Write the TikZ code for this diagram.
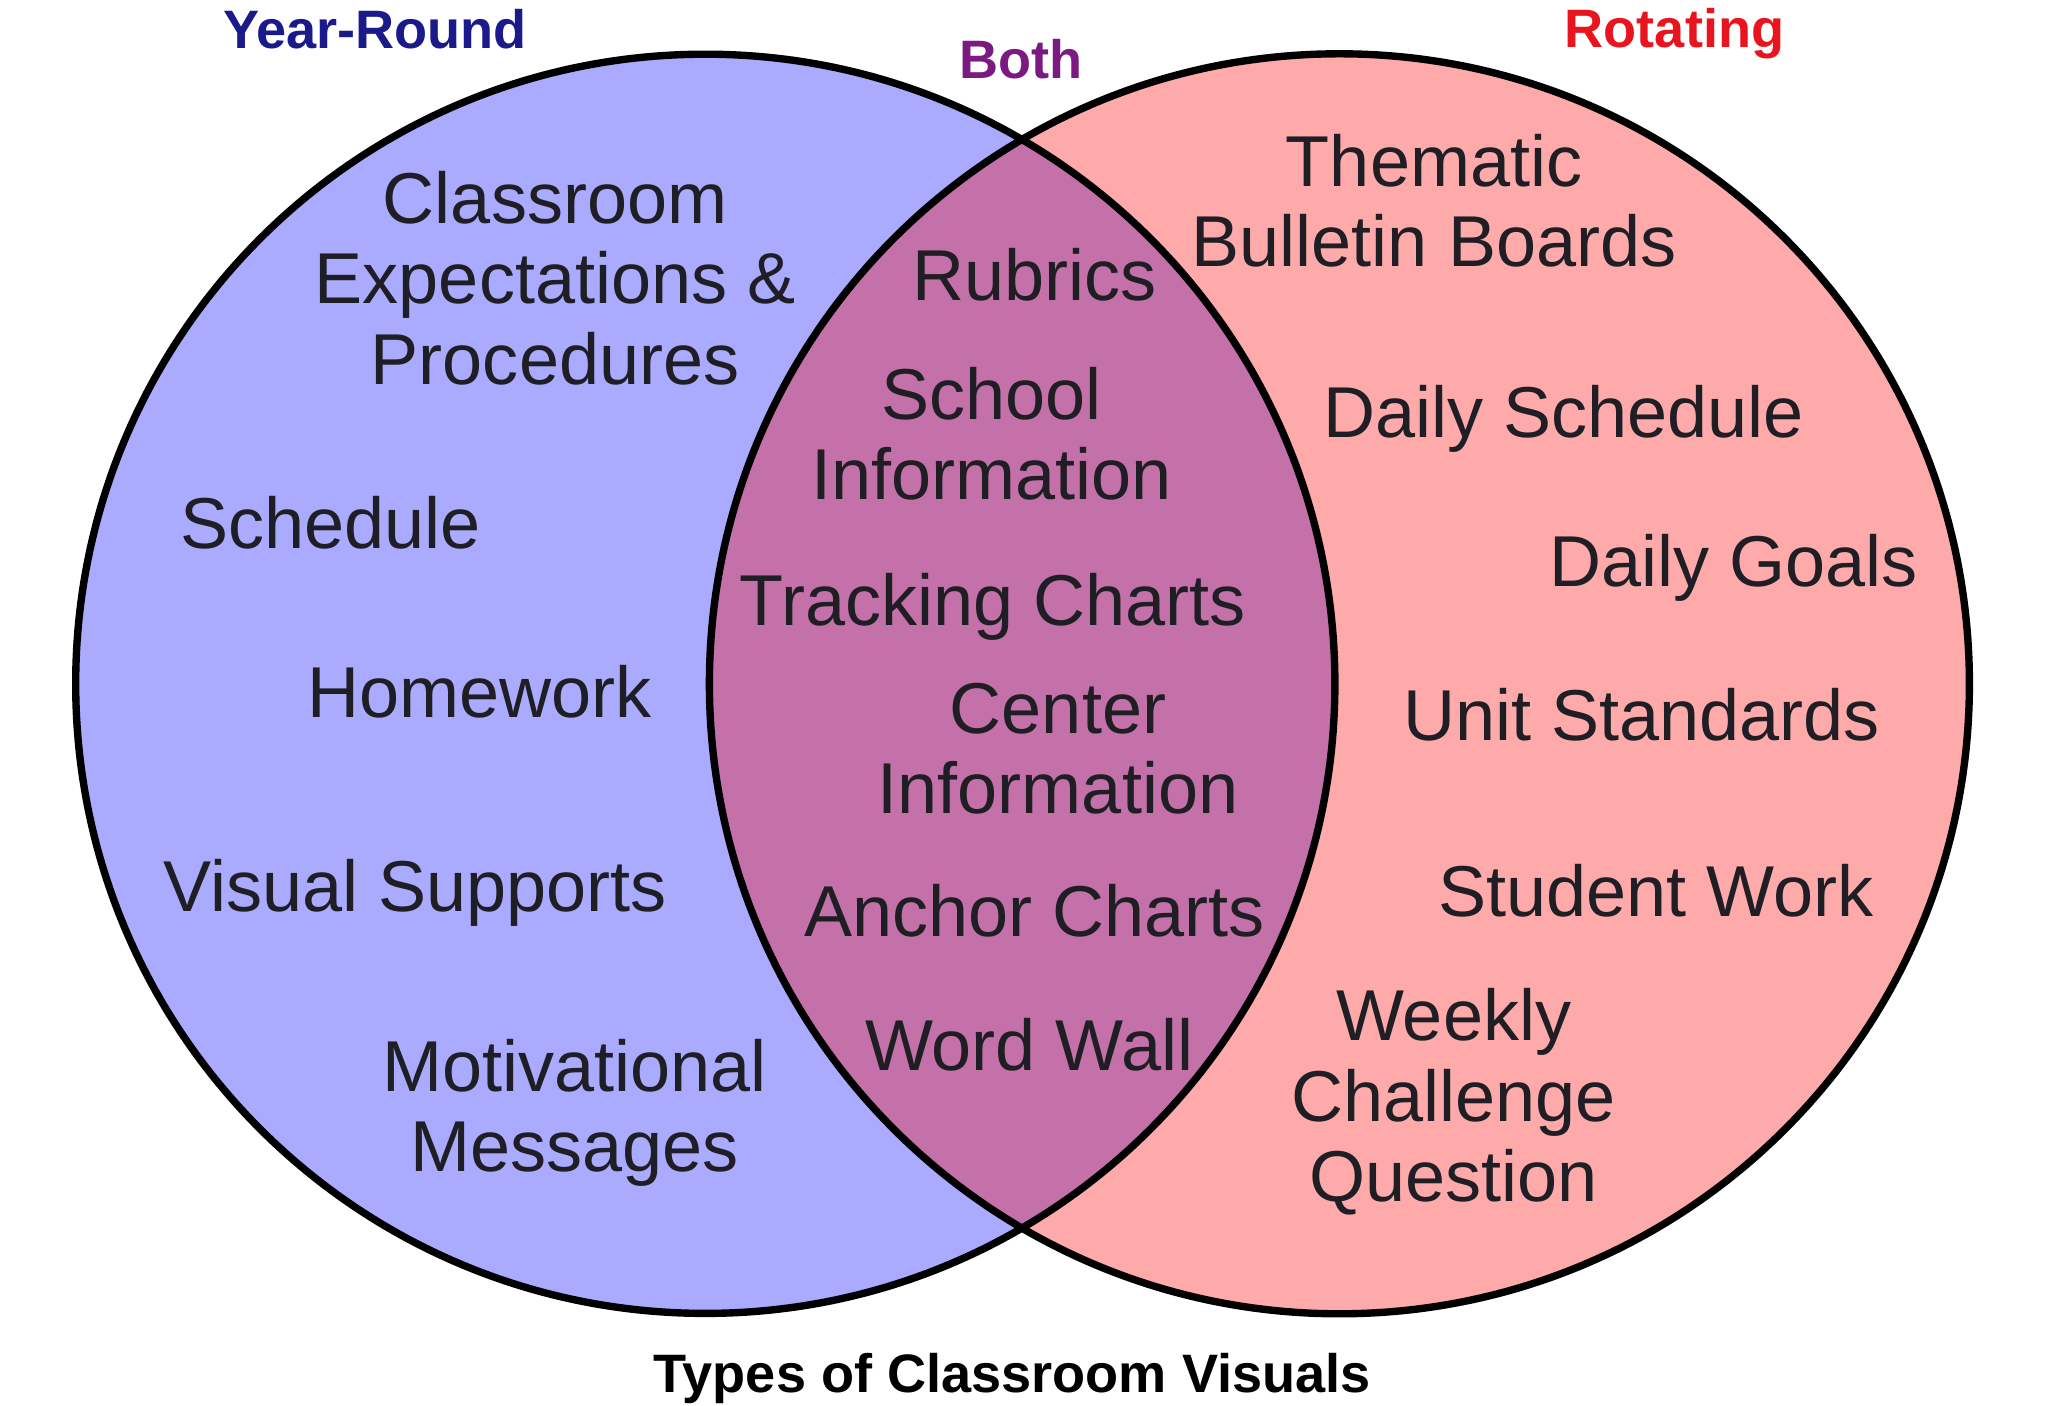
\documentclass[tikz,border=0pt]{standalone}
\usepackage{fontspec}
\setmainfont{Liberation Sans}
\definecolor{YearBlue}{HTML}{AAAAFF}
\definecolor{RotPink}{HTML}{FFAAAA}
\definecolor{BothMauve}{HTML}{C471A9}
\definecolor{Ink}{HTML}{1E1E24}
\definecolor{YearNavy}{HTML}{1B1A8A}
\definecolor{BothPurple}{HTML}{7B1B82}
\definecolor{RotRed}{HTML}{E8141E}
\tikzset{
    item/.style={align=center, text=Ink, font=\fontsize{20.5}{22.8}\selectfont, inner sep=0pt},
    headlabel/.style={font=\bfseries\fontsize{15.4}{18}\selectfont, inner sep=0pt},
    ring/.style={draw=black, line width=2.1pt},
}
\begin{document}
\begin{tikzpicture}
    \useasboundingbox (0,0) rectangle (20.48,-14.06);

    % Cerchi
    \coordinate (lc) at (7.053,-6.838);
    \coordinate (rc) at (13.394,-6.838);
    \fill[YearBlue] (lc) circle (6.296);
    \fill[RotPink] (rc) circle (6.30);
    \begin{scope}
        \clip (lc) circle (6.296);
        \fill[BothMauve] (rc) circle (6.30);
    \end{scope}
    \draw[ring] (lc) circle (6.296);
    \draw[ring] (rc) circle (6.30);

    % Titoli
    \node[headlabel, text=YearNavy] (yearround) at (3.749,-0.287) {Year-Round};
    \node[headlabel, text=BothPurple] (both) at (10.214,-0.588) {Both};
    \node[headlabel, text=RotRed] (rotating) at (16.745,-0.337) {Rotating};

    % Solo tutto l'anno
    \node[item] (classroom) at (5.551,-2.782) {Classroom\\Expectations \&\\Procedures};
    \node[item] (schedule) at (3.304,-5.224) {Schedule};
    \node[item] (homework) at (4.793,-6.922) {Homework};
    \node[item] (visual) at (4.153,-8.932) {Visual Supports};
    \node[item] (motivational) at (5.747,-11.129) {Motivational\\Messages};

    % Entrambi
    \node[item] (rubrics) at (10.345,-2.743) {Rubrics};
    \node[item] (school) at (9.913,-4.336) {School\\Information};
    \node[item] (tracking) at (9.927,-6.073) {Tracking Charts};
    \node[item] (center) at (10.580,-7.484) {Center\\Information};
    \node[item] (anchor) at (10.345,-9.104) {Anchor Charts};
    \node[item] (wordwall) at (10.292,-10.449) {Word Wall};

    % Solo a rotazione
    \node[item] (thematic) at (14.341,-2.011) {Thematic\\Bulletin Boards};
    \node[item] (dailysched) at (15.634,-4.192) {Daily Schedule};
    \node[item] (dailygoals) at (17.332,-5.679) {Daily Goals};
    \node[item] (unitstd) at (16.418,-7.145) {Unit Standards};
    \node[item] (student) at (16.562,-8.908) {Student Work};
    \node[item] (weekly) at (14.537,-11.018) {Weekly\\Challenge\\Question};

    % Didascalia
    \node[headlabel, text=black] (caption) at (10.122,-13.790) {Types of Classroom Visuals};
\end{tikzpicture}
\end{document}
